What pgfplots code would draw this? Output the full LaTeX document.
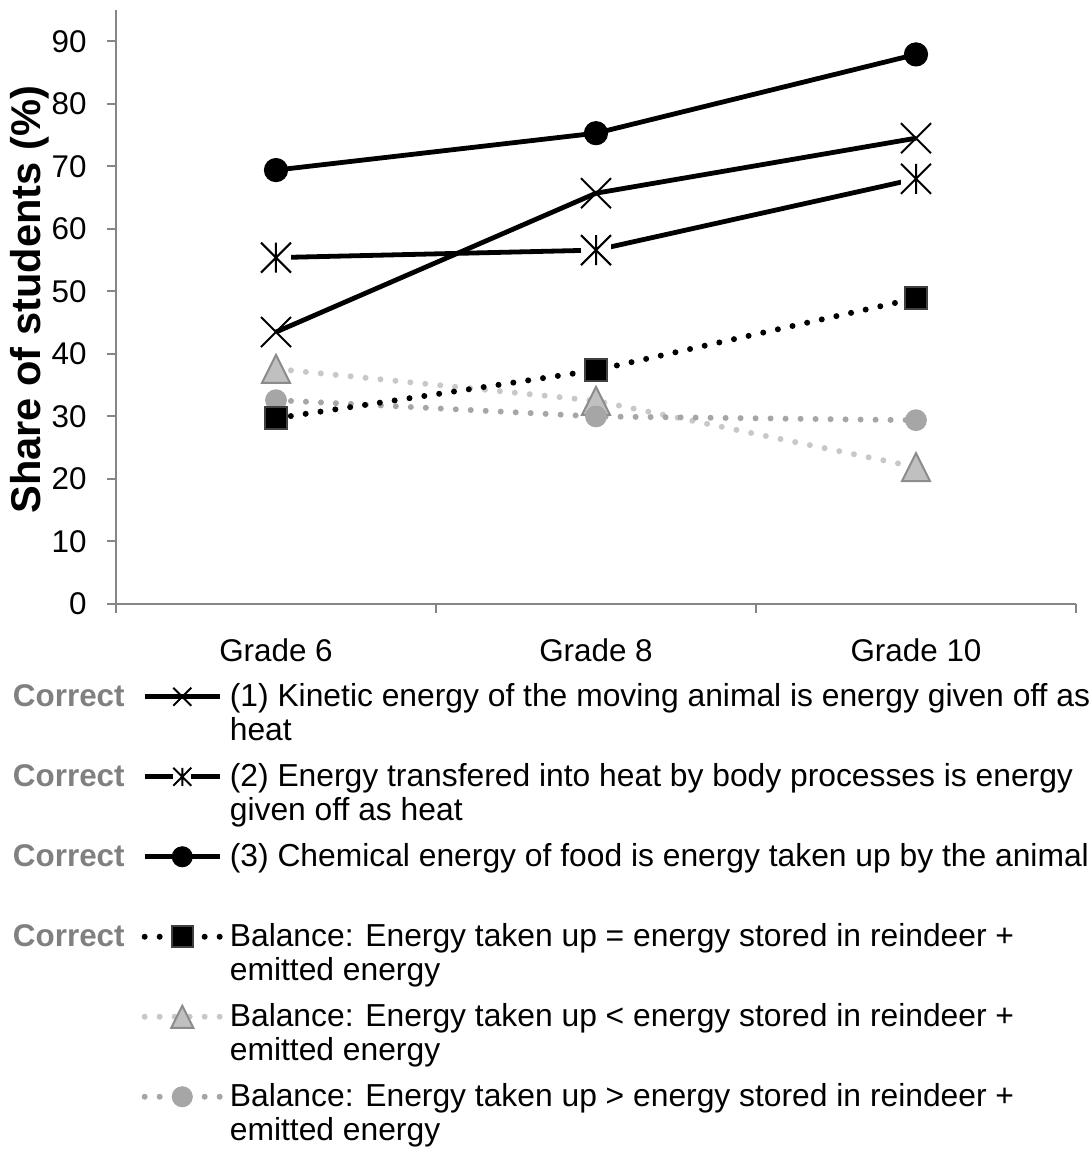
\documentclass[border=0pt]{standalone}
\usepackage{fontspec}
\setmainfont{Liberation Sans}
\usepackage{pgfplots}
\pgfplotsset{compat=1.18}
\definecolor{axgray}{HTML}{868686}
\definecolor{corrgray}{HTML}{808080}
\definecolor{sqedge}{HTML}{404040}
\definecolor{trifill}{HTML}{C0C0C0}
\definecolor{triedge}{HTML}{8C8C8C}
\definecolor{tridot}{HTML}{C8C8C8}
\definecolor{cirfill}{HTML}{A6A6A6}

\pgfdeclareplotmark{xcross}{%
  \pgfpathmoveto{\pgfqpoint{-\pgfplotmarksize}{-\pgfplotmarksize}}%
  \pgfpathlineto{\pgfqpoint{\pgfplotmarksize}{\pgfplotmarksize}}%
  \pgfpathmoveto{\pgfqpoint{-\pgfplotmarksize}{\pgfplotmarksize}}%
  \pgfpathlineto{\pgfqpoint{\pgfplotmarksize}{-\pgfplotmarksize}}%
  \pgfusepathqstroke}
\pgfdeclareplotmark{xstar}{%
  \pgfpathrectangle{\pgfqpoint{-\pgfplotmarksize}{-\pgfplotmarksize}}{\pgfqpoint{2\pgfplotmarksize}{2\pgfplotmarksize}}%
  \pgfsetfillcolor{white}\pgfusepathqfill
  \pgfpathmoveto{\pgfqpoint{-\pgfplotmarksize}{-\pgfplotmarksize}}%
  \pgfpathlineto{\pgfqpoint{\pgfplotmarksize}{\pgfplotmarksize}}%
  \pgfpathmoveto{\pgfqpoint{-\pgfplotmarksize}{\pgfplotmarksize}}%
  \pgfpathlineto{\pgfqpoint{\pgfplotmarksize}{-\pgfplotmarksize}}%
  \pgfpathmoveto{\pgfqpoint{0pt}{-\pgfplotmarksize}}%
  \pgfpathlineto{\pgfqpoint{0pt}{\pgfplotmarksize}}%
  \pgfusepathqstroke}
\pgfdeclareplotmark{xtri}{%
  \pgfpathmoveto{\pgfqpoint{0pt}{\pgfplotmarksize}}%
  \pgfpathlineto{\pgfqpoint{-\pgfplotmarksize}{-\pgfplotmarksize}}%
  \pgfpathlineto{\pgfqpoint{\pgfplotmarksize}{-\pgfplotmarksize}}%
  \pgfpathclose\pgfusepathqfillstroke}

\newcommand{\lt}[2]{\begin{tabular}[t]{@{}l@{}}#1\\#2\end{tabular}}
\newcommand{\corr}{\node[anchor=base east, inner sep=0pt, text=corrgray, font=\fontsize{15.7bp}{17bp}\selectfont\bfseries] at (-10bp,0bp) {Correct};}

\pgfplotsset{
  legline/.style={legend image code/.code={%
    \draw[mark repeat=2, mark phase=2] plot coordinates {(0bp,4.7bp) (18.8bp,4.7bp) (37.6bp,4.7bp)};}},
  leglinec/.style={legend image code/.code={%
    \corr
    \draw[mark repeat=2, mark phase=2] plot coordinates {(0bp,4.7bp) (18.8bp,4.7bp) (37.6bp,4.7bp)};}},
  dotline/.style={line width=3bp, line cap=round, dash pattern=on 0bp off 7.5bp},
}

\begin{document}
\begin{tikzpicture}
\useasboundingbox (-58bp,-273.5bp) rectangle (487.5bp,302bp);
\begin{axis}[
  at={(0bp,0bp)}, anchor=south west, scale only axis,
  width=480bp, height=297bp,
  xmin=-0.5, xmax=2.5, ymin=0, ymax=95, clip=false,
  axis lines*=left,
  axis line style={axgray, line width=1bp},
  tick align=outside,
  tick style={axgray, line width=1bp},
  major tick length=4.5bp,
  xtick={-0.5,0.5,1.5,2.5}, xticklabels={},
  extra x ticks={0,1,2},
  extra x tick labels={Grade 6,Grade 8,Grade 10},
  extra x tick style={major tick length=0pt, tick style={draw=none}},
  ytick={0,10,...,90},
  ticklabel style={font=\fontsize{15.7bp}{18bp}\selectfont, text=black},
  /pgf/number format/assume math mode=true,
  xticklabel style={inner sep=0pt, anchor=north, yshift=-17bp},
  yticklabel style={inner sep=0pt, anchor=east, xshift=-10bp},
  ylabel={Share of students (\%)},
  ylabel style={font=\bfseries\fontsize{20.8bp}{24bp}\selectfont, at={(axis description cs:-0.0896,0.512)}, anchor=center, rotate=0},
  legend style={at={(-0.1073,-0.1313)}, anchor=north west, draw=none, fill=none,
    inner sep=0pt, outer sep=0pt, row sep=5.5bp, column sep=3.5bp,
    font=\fontsize{15.9bp}{17.25bp}\selectfont,
    nodes={inner sep=0pt, text depth=},
    cells={anchor=base west, inner sep=0pt, text depth=}},
]
% dotted series
\addplot[forget plot, tridot, dotline, mark=xtri, mark size=7bp,
  mark options={solid, fill=trifill, draw=triedge, line width=1bp}]
  coordinates {(0,37.6) (1,32.5) (2,21.9)};
\addplot[forget plot, cirfill, dotline, mark=*, mark size=5.2bp,
  mark options={solid, fill=cirfill, draw=cirfill, line width=0.5bp}]
  coordinates {(0,32.6) (1,30.0) (2,29.4)};
\addplot[forget plot, black, dotline, mark=square*, mark size=5.5bp,
  mark options={solid, fill=black, draw=sqedge, line width=1bp}]
  coordinates {(0,29.7) (1,37.4) (2,48.9)};
% solid series
\addplot[forget plot, black, line width=2.4bp, mark=xcross, mark size=7.5bp,
  mark options={solid, line width=1bp}]
  coordinates {(0,43.5) (1,65.7) (2,74.5)};
\addplot[forget plot, black, line width=2.4bp, mark=xstar, mark size=7.5bp,
  mark options={solid, line width=1bp}]
  coordinates {(0,55.4) (1,56.6) (2,68.0)};
\addplot[forget plot, black, line width=2.4bp, mark=*, mark size=5.8bp,
  mark options={solid, fill=black, line width=0.5bp}]
  coordinates {(0,69.4) (1,75.3) (2,87.9)};
% legend
\addlegendimage{leglinec, black, line width=2.4bp, mark=xcross, mark size=4.5bp, mark options={solid, line width=1bp}}
\addlegendentry{\lt{(1) Kinetic energy of the moving animal is energy given off as}{heat}}
\addlegendimage{leglinec, black, line width=2.4bp, mark=xstar, mark size=4.5bp, mark options={solid, line width=1bp}}
\addlegendentry{\lt{(2) Energy transfered into heat by body processes is energy}{given off as heat}}
\addlegendimage{leglinec, black, line width=2.4bp, mark=*, mark size=5bp, mark options={solid, fill=black, line width=0.5bp}}
\addlegendentry{\lt{(3) Chemical energy of food is energy taken up by the animal}{\mbox{}}}
\addlegendimage{leglinec, black, dotline, mark=square*, mark size=5.2bp, mark options={solid, fill=black, draw=sqedge, line width=1bp}}
\addlegendentry{\lt{Balance: Energy taken up = energy stored in reindeer +}{emitted energy}}
\addlegendimage{legline, tridot, dotline, mark=xtri, mark size=5.5bp, mark options={solid, fill=trifill, draw=triedge, line width=1bp}}
\addlegendentry{\lt{Balance: Energy taken up < energy stored in reindeer +}{emitted energy}}
\addlegendimage{legline, cirfill, dotline, mark=*, mark size=5bp, mark options={solid, fill=cirfill, draw=cirfill, line width=0.5bp}}
\addlegendentry{\lt{Balance: Energy taken up > energy stored in reindeer +}{emitted energy}}
\end{axis}
\end{tikzpicture}
\end{document}
